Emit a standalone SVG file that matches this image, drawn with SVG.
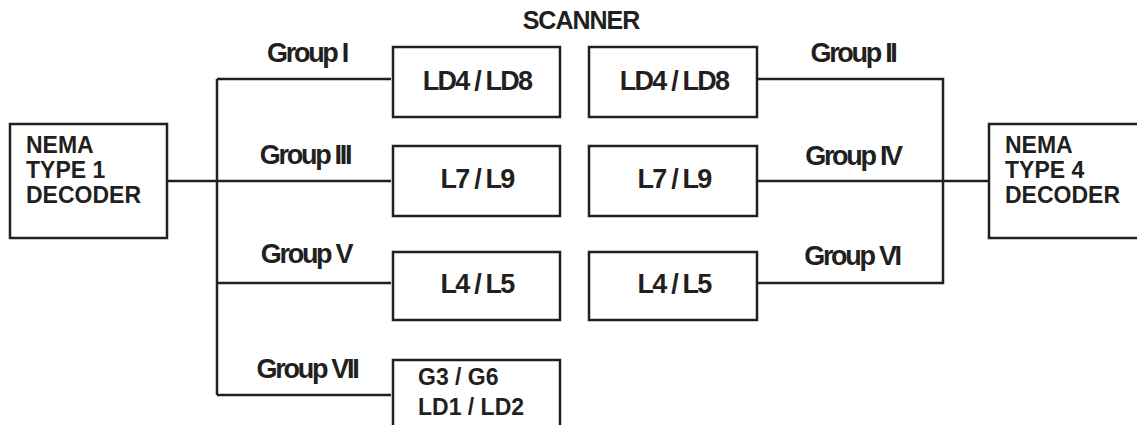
<svg xmlns="http://www.w3.org/2000/svg" width="1137" height="425" viewBox="0 0 1137 425">
<style>
.box{fill:#fff;stroke:#231f20;stroke-width:2.5}
.ln{fill:none;stroke:#231f20;stroke-width:2.5}
.grp{font-family:"Liberation Sans",Arial,sans-serif;font-weight:bold;font-size:27px;letter-spacing:-2.3px;fill:#231f20;text-anchor:middle}
.lbl{font-family:"Liberation Sans",Arial,sans-serif;font-weight:bold;font-size:27px;letter-spacing:-1.8px;fill:#231f20;text-anchor:middle}
.nema{font-family:"Liberation Sans",Arial,sans-serif;font-weight:bold;font-size:23px;fill:#231f20}
.small{font-family:"Liberation Sans",Arial,sans-serif;font-weight:bold;font-size:23px;fill:#231f20}
</style>
<rect width="1137" height="425" fill="#fff"/>
<g id="connectors">
<path class="ln" d="M167,181 H391"/>
<path class="ln" d="M217,79 V395"/>
<path class="ln" d="M217,79 H391"/>
<path class="ln" d="M217,283 H391"/>
<path class="ln" d="M217,395 H391"/>
<path class="ln" d="M757,79 H943 V283 H757"/>
<path class="ln" d="M757,181 H989"/>
</g>
<g id="title"><text class="lbl" x="581" y="29" style="font-size:25px;letter-spacing:-1px">SCANNER</text></g>
<g id="labels">
<text class="grp" x="307" y="62">Group I</text>
<text class="grp" x="305" y="164">Group III</text>
<text class="grp" x="306" y="263">Group V</text>
<text class="grp" x="307" y="378">Group VII</text>
<text class="grp" x="853" y="62">Group II</text>
<text class="grp" x="853" y="165">Group IV</text>
<text class="grp" x="852" y="265">Group VI</text>
</g>
<g id="nema1">
<rect class="box" x="10" y="124" width="157" height="114"/>
<text class="nema" x="26" y="153">NEMA</text>
<text class="nema" x="26" y="178">TYPE 1</text>
<text class="nema" x="26" y="203">DECODER</text>
</g>
<g id="nema4">
<rect class="box" x="989" y="124" width="160" height="114"/>
<text class="nema" x="1005" y="153">NEMA</text>
<text class="nema" x="1005" y="178">TYPE 4</text>
<text class="nema" x="1005" y="203">DECODER</text>
</g>
<g id="g1"><rect class="box" x="393" y="47" width="167" height="70"/><text class="lbl" x="477" y="90">LD4 / LD8</text></g>
<g id="g2"><rect class="box" x="589" y="47" width="168" height="70"/><text class="lbl" x="674" y="90">LD4 / LD8</text></g>
<g id="g3"><rect class="box" x="393" y="146" width="167" height="70"/><text class="lbl" x="477" y="188">L7 / L9</text></g>
<g id="g4"><rect class="box" x="589" y="146" width="168" height="70"/><text class="lbl" x="674" y="188">L7 / L9</text></g>
<g id="g5"><rect class="box" x="393" y="252" width="167" height="68"/><text class="lbl" x="477" y="293">L4 / L5</text></g>
<g id="g6"><rect class="box" x="589" y="252" width="168" height="68"/><text class="lbl" x="674" y="293">L4 / L5</text></g>
<g id="g7"><rect class="box" x="393" y="360" width="167" height="80"/>
<text class="small" x="418" y="385">G3 / G6</text>
<text class="small" x="418" y="415">LD1 / LD2</text></g>
</svg>
